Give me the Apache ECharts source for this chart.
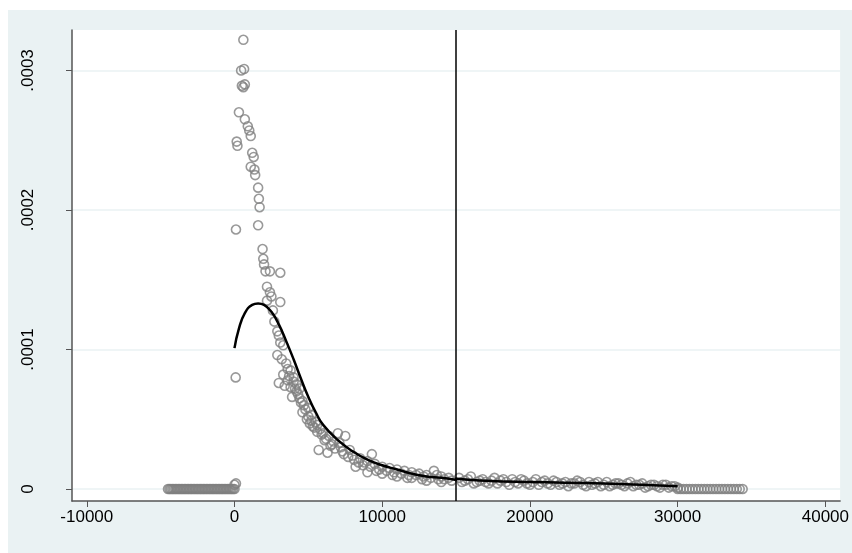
<!DOCTYPE html>
<html>
<head>
<meta charset="utf-8">
<title>ECharts</title>
<script src="https://cdn.jsdelivr.net/npm/echarts@6/dist/echarts.min.js"></script>
<style>body{margin:0;background:#fff}</style>
</head>
<body>
<div id="main" style="position:absolute;left:8px;top:10px;width:844px;height:543px;"></div>
<script type="text/javascript">
// scatter points [x, y]
var peakPts = [
 [600,.000322],[450,.000300],[650,.000301],[500,.000289],[700,.000290],[600,.000288],[300,.000270],
 [700,.000265],[900,.000260],[1000,.000257],[1100,.000253],[150,.000249],[200,.000246],[1200,.000241],
 [1300,.000238],[1100,.000231],[1350,.000229],[1400,.000225],[1600,.000216],[1650,.000208],[1700,.000202],
 [100,.000186],[1600,.000189],[1900,.000172],[1950,.000165],[2000,.000161],[2100,.000156],[2400,.000156],
 [3100,.000155],[2200,.000145],[2400,.000141],[2500,.000138],[2200,.000135],[3100,.000134],[2600,.000128],
 [2700,.000120],[2900,.000113],[3000,.000110],[3100,.000105],[3300,.000103],[2900,.000096],[3200,.000093],
 [3500,.000090],[3600,.000086],[3300,.000082],[3700,.000081],[4000,.000077],[3000,.000076],[3400,.000074],
 [3800,.000073],[4100,.000072],[4300,.000068],[3900,.000066],[4500,.000062],[4700,.000060],[5000,.000058],
 [4600,.000055],[5200,.000053],[4900,.000050],[5500,.000048],[5300,.000045],[5800,.000043],[6000,.000040],
 [6400,.000038],[7000,.000040],[7500,.000038],[6200,.000036],[6700,.000034],[5700,.000028],[6300,.000026],
 [7200,.000030],[7800,.000028],[8000,.000024],[8500,.000022],[9000,.000020],[9300,.000025],[9500,.000018],
 [10000,.000016],[10500,.000015],[11000,.000014],[11500,.000013],[12000,.000012],[12500,.000011],[13000,.000010],
 [13500,.000013],[14000,.000009],[14500,.000008],[8200,.000016],[9000,.000012],[10000,.000011],[11000,.000009],
 [12000,.000008],[13000,.000006],[14000,.000005],[4200,.000070],[4400,.000065],[3600,.000078],[5100,.000047],
 [5600,.000041],[6600,.000032],[7300,.000027],[8800,.000019],[9800,.000014],[10800,.000012],[11800,.000010],
 [12800,.000009],[13800,.000007],[80,.000080],[0,.000003],[100,.000004],
 [3800,.000085],[4000,.000080],[4200,.000075],[4400,.000072],[4600,.000063],[4800,.000057],[5000,.000052],
 [5200,.000049],[5400,.000044],[5600,.000046],[5900,.000039],[6100,.000035],[6500,.000031],[6800,.000029],
 [7100,.000033],[7400,.000025],[7700,.000023],[8100,.000021],[8400,.000019],[8700,.000017],[9200,.000016],
 [9600,.000013],[10300,.000013],[10700,.000010],[11300,.000011],[11700,.000008],[12300,.000010],[12700,.000007],
 [13300,.000008],[13700,.000010],[14200,.000007],[14700,.000006]
];
var tailPts = [
 [15200,.000008],[15600,.000006],[16000,.000009],[16400,.000005],[16800,.000007],[17200,.000004],[17600,.000008],
 [18000,.000006],[18400,.000005],[18800,.000007],[19200,.000004],[19600,.000006],[20000,.000003],[20400,.000007],
 [20800,.000005],[21200,.000004],[21600,.000006],[22000,.000003],[22400,.000005],[22800,.000004],[23200,.000006],
 [23600,.000003],[24000,.000005],[24400,.000004],[24800,.000002],[25200,.000005],[25600,.000003],[26000,.000004],
 [26400,.000002],[26800,.000005],[27200,.000003],[27600,.000004],[28000,.000002],[28400,.000003],[28800,.000001],
 [29200,.000003],[29600,.000002],[30000,.000001],
 [15400,.000005],[15800,.000007],[16200,.000004],[16600,.000006],[17000,.000005],[17400,.000006],[17800,.000004],
 [18200,.000007],[18600,.000003],[19000,.000005],[19400,.000007],[19800,.000004],[20200,.000005],[20600,.000003],
 [21000,.000006],[21400,.000003],[21800,.000005],[22200,.000004],[22600,.000002],[23000,.000004],[23400,.000005],
 [23800,.000002],[24200,.000003],[24600,.000005],[25000,.000003],[25400,.000002],[25800,.000004],[26200,.000003],
 [26600,.000004],[27000,.000002],[27400,.000003],[27800,.000001],[28200,.000003],[28600,.000002],[29000,.000003],
 [29400,.000001],[29800,.000002]
];
var zeroX = [-4500,-4400,-4300,-4200,-4100,-4000,-3900,-3800,-3700,-3600,-3500,-3400,-3300,-3200,-3100,-3000,
 -2900,-2800,-2700,-2600,-2500,-2400,-2300,-2200,-2100,-2000,-1900,-1800,-1700,-1600,-1500,-1400,-1300,-1200,
 -1100,-1000,-900,-800,-700,-600,-500,-400,-300,-200,-100,0,
 30000,30200,30400,30600,30800,31000,31200,31400,31600,31800,32000,32200,32400,32600,32800,33000,33200,
 33400,33600,33800,34000,34200,34400];
// fitted curve
var curveX = [0,300,700,1200,1600,2000,2500,3000,3500,4000,4500,5000,5500,6000,7000,8000,9000,10000,11000,12000,13000,14000,15000,15001,17000,20000,25000,30000];
var curveY = [.000101,.000115,.000126,.000132,.000133,.000132,.000127,.000118,.000106,.000093,.000079,.000066,.000055,.000046,.000035,.000027,.000021,.000017,.000014,.000011,.000009,.000008,.0000065,.0000075,.0000060,.000005,.000004,.000002];
var xTicks = [-10000,0,10000,20000,30000,40000];
var yTicks = [0,.0001,.0002,.0003];
var cutoff = 15000;

var scatterData = peakPts.concat(tailPts).concat(zeroX.map(function (x) { return [x, 0]; }));
var curveData = curveX.map(function (x, i) { return [x, curveY[i]]; });

var chart = echarts.init(document.getElementById("main"));
chart.setOption({
    backgroundColor: "#eaf2f3",
    animation: false,
    grid: {left: 64, top: 20, right: 4, bottom: 52, show: true, backgroundColor: "#fff", borderWidth: 0},
    xAxis: {
        type: "value", min: -11000, max: 41000,
        axisLine: {onZero: false, lineStyle: {color: "#555", width: 1.5}},
        axisTick: {customValues: xTicks, length: 6, lineStyle: {color: "#555"}},
        axisLabel: {customValues: xTicks, color: "#000", fontSize: 17, fontFamily: "Liberation Sans", margin: 8,
            formatter: function (v) { return String(v); }},
        splitLine: {show: false}
    },
    yAxis: {
        type: "value", min: -0.0000086, max: 0.000329,
        axisLine: {show: true, onZero: false, lineStyle: {color: "#555", width: 1.5}},
        axisTick: {show: true, customValues: yTicks, length: 6, lineStyle: {color: "#555"}},
        axisLabel: {customValues: yTicks, rotate: 90, color: "#000", fontSize: 17, fontFamily: "Liberation Sans", margin: 44,
            align: "center", verticalAlign: "middle",
            formatter: function (v) { return v === 0 ? "0" : String(+v.toFixed(4)).replace(/^0/, ""); }},
        splitLine: {show: true, lineStyle: {color: "#eaf2f3", width: 1.5}}
    },
    series: [{
        type: "scatter", data: scatterData, symbol: "circle", symbolSize: 9,
        itemStyle: {color: "rgba(0,0,0,0)", borderColor: "#808080", borderWidth: 1.6}
    }, {
        type: "line", data: curveData, smooth: true, showSymbol: false,
        lineStyle: {color: "#000", width: 2.5},
        markLine: {silent: true, symbol: "none", label: {show: false},
            lineStyle: {color: "#000", width: 1.5, type: "solid"},
            data: [{xAxis: cutoff}]}
    }]
});
</script>
</body>
</html>
